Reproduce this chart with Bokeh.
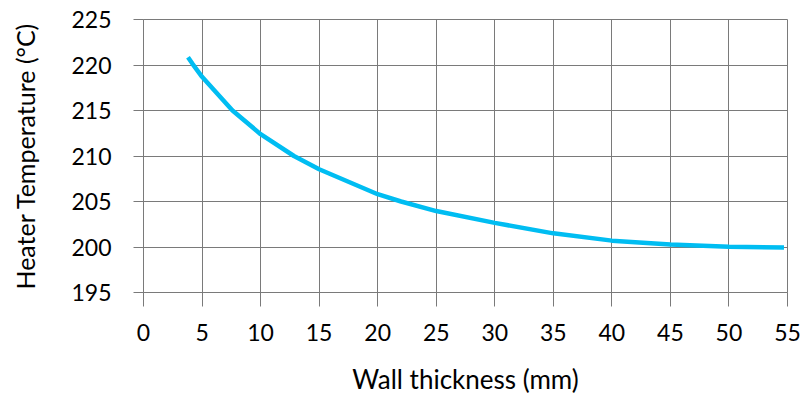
from bokeh.plotting import figure
from bokeh.models import Range1d, FixedTicker
from bokeh.embed import file_html
from bokeh.resources import INLINE

# Data
wall_mm = [3.8, 4.2, 5, 7.6, 10, 12.85, 15, 20, 22, 25, 30, 35, 40, 45, 50, 54.7]
heater_c = [220.85, 220.1, 218.7, 215.0, 212.4, 210.0, 208.55, 205.8, 205.0, 203.95, 202.65, 201.5, 200.7, 200.27, 200.03, 199.95]
x_ticks = [0, 5, 10, 15, 20, 25, 30, 35, 40, 45, 50, 55]
y_ticks = [195, 200, 205, 210, 215, 220, 225]
x_title = "Wall thickness (mm)"
y_title = "Heater Temperature (°C)"

FONT = "Lato"
GRID = "#7a7a7a"

p = figure(width=802, height=405, output_backend="svg", toolbar_location=None,
           x_range=Range1d(0, 55), y_range=Range1d(195, 225),
           min_border_left=143, min_border_right=15, min_border_top=19, min_border_bottom=113)

p.line(wall_mm, heater_c, line_color="#00BDF2", line_width=4.5, line_cap="butt", line_join="round")

p.xaxis.ticker = FixedTicker(ticks=x_ticks)
p.yaxis.ticker = FixedTicker(ticks=y_ticks)

for ax in (p.xaxis[0], p.yaxis[0]):
    ax.axis_line_color = GRID
    ax.major_tick_line_color = GRID
    ax.minor_tick_line_color = None
    ax.major_tick_in = 0
    ax.major_label_text_font = FONT
    ax.major_label_text_font_size = "23px"
    ax.major_label_text_color = "black"
    ax.axis_label_text_font = FONT
    ax.axis_label_text_font_size = "25px"
    ax.axis_label_text_font_style = "normal"
    ax.axis_label_text_color = "black"

p.xaxis.axis_label_text_font_size = "26px"
p.xaxis.major_tick_out = 14
p.yaxis.major_tick_out = 10
p.xaxis.major_label_standoff = 17
p.yaxis.major_label_standoff = 22
p.xaxis.axis_label = x_title
p.yaxis.axis_label = y_title
p.xaxis.axis_label_standoff = 19
p.yaxis.axis_label_standoff = 28

p.xgrid.ticker = FixedTicker(ticks=x_ticks)
p.ygrid.ticker = FixedTicker(ticks=y_ticks)
p.grid.grid_line_color = GRID
p.grid.grid_line_width = 1
p.outline_line_color = GRID
p.background_fill_color = "white"
p.border_fill_color = "white"

open("out.html", "w").write(file_html(p, INLINE))
